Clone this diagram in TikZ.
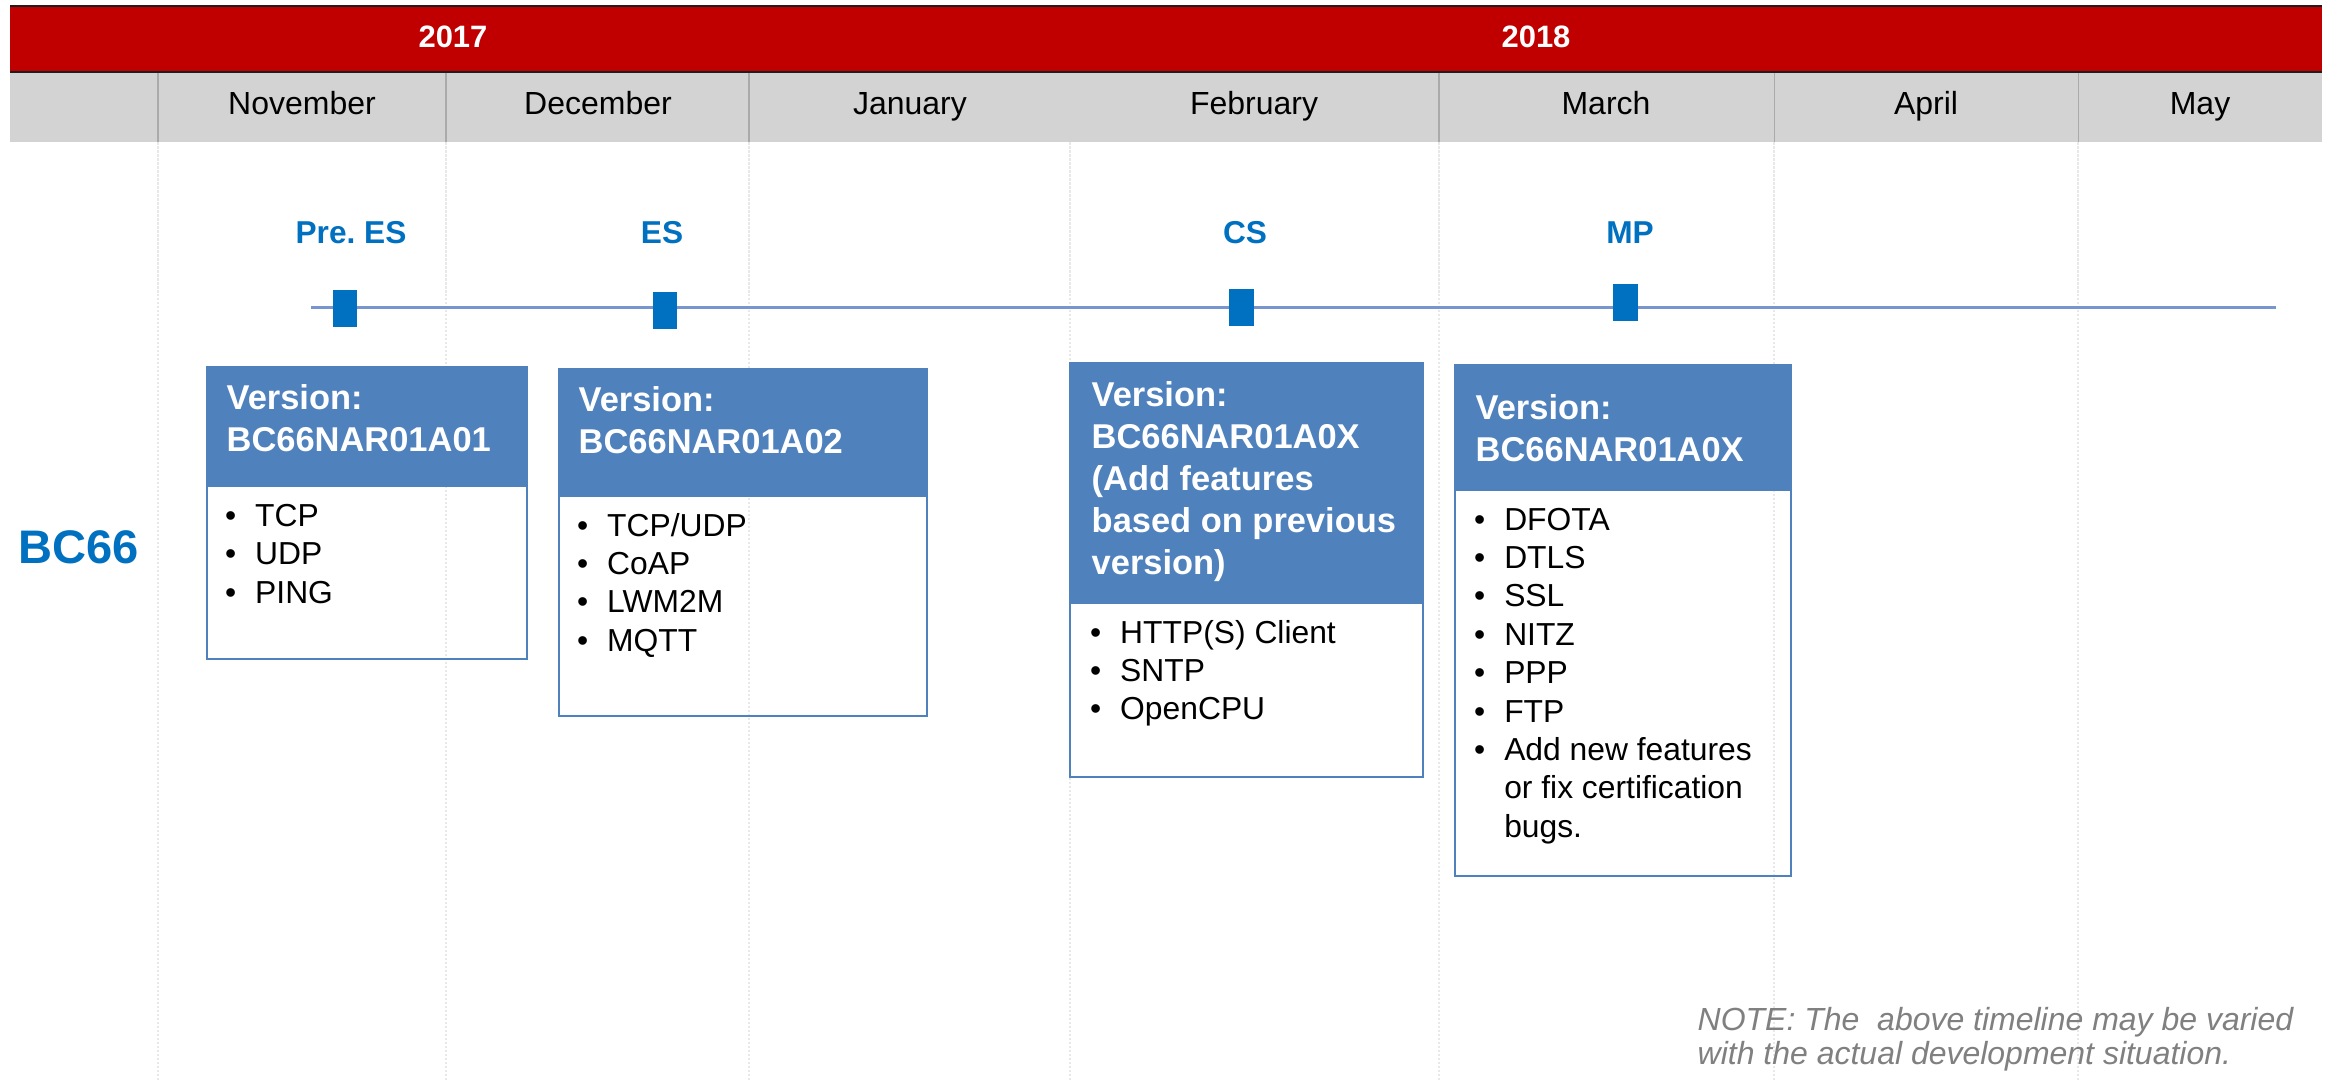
\documentclass[tikz,border=0pt]{standalone}
\usepackage{fontspec}
\setmainfont{Liberation Sans}
\usetikzlibrary{positioning}
\frenchspacing
\definecolor{barred}{RGB}{192,0,0}
\definecolor{barline}{RGB}{30,30,30}
\definecolor{bandgray}{RGB}{211,211,211}
\definecolor{sepgray}{RGB}{170,170,170}
\definecolor{gridgray}{RGB}{232,232,232}
\definecolor{qblue}{RGB}{0,112,192}
\definecolor{hdrblue}{RGB}{79,129,189}
\definecolor{lineblue}{RGB}{120,150,205}
\definecolor{notegray}{RGB}{128,128,128}
\tikzset{
  yearlabel/.style={anchor=base, inner sep=0, text=white, font=\fontsize{8.8}{10}\selectfont\bfseries},
  monthlabel/.style={anchor=base, inner sep=0, font=\fontsize{9.1}{11}\selectfont},
  milestone/.style={anchor=base, inner sep=0, text=qblue, font=\fontsize{9}{11}\selectfont\bfseries},
  marker/.style={rectangle, fill=qblue, inner sep=0, minimum width=2.45mm, minimum height=3.7mm},
  verhead/.style={rectangle, fill=hdrblue, inner sep=0, anchor=north west},
  verbox/.style={rectangle, draw=hdrblue, line width=0.6pt, inner sep=0, anchor=north west},
  hdrtext/.style={anchor=base west, inner sep=0, text=white, font=\fontsize{9.8}{11.95}\selectfont\bfseries},
  featlist/.style={anchor=base west, inner sep=0, font=\fontsize{9.05}{10.93}\selectfont},
  gridline/.style={draw=gridgray, line width=0.5pt, dash pattern=on 0.25mm off 0.15mm},
  bandsep/.style={draw=sepgray, line width=0.3pt},
}

\begin{document}
\begin{tikzpicture}[x=0.1mm, y=-0.1mm]
\useasboundingbox[fill=white] (0,0) rectangle (2331,1081);

% Grid lines under the months
\draw[gridline] (158,142) -- (158,1081);
\draw[gridline] (446,142) -- (446,1081);
\draw[gridline] (749,142) -- (749,1081);
\draw[gridline] (1070,142) -- (1070,1081);
\draw[gridline] (1439,142) -- (1439,1081);
\draw[gridline] (1774,142) -- (1774,1081);
\draw[gridline] (2078,142) -- (2078,1081);

% Year bar
\fill[barred] (10,6) rectangle (2322,72);
\draw[barline, line width=0.7pt] (10,6) -- (2322,6);
\draw[barline, line width=0.7pt] (10,72) -- (2322,72);
\node[yearlabel] (y17) at (453,47) {2017};
\node[yearlabel] (y18) at (1536,47) {2018};

% Month band
\fill[bandgray] (10,73) rectangle (2322,142);
\draw[bandsep] (158,73) -- (158,142);
\draw[bandsep] (446,73) -- (446,142);
\draw[bandsep] (749,73) -- (749,142);
\draw[bandsep] (1439,73) -- (1439,142);
\draw[bandsep] (1774,73) -- (1774,142);
\draw[bandsep] (2078,73) -- (2078,142);
\node[monthlabel] (nov) at (302,114) {November};
\node[monthlabel] (dec) at (598,114) {December};
\node[monthlabel] (jan) at (910,114) {January};
\node[monthlabel] (feb) at (1254,114) {February};
\node[monthlabel] (mar) at (1606,114) {March};
\node[monthlabel] (apr) at (1926,114) {April};
\node[monthlabel] (may) at (2200,114) {May};

% Timeline and milestones
\coordinate (tstart) at (311,307.5);
\coordinate (tend) at (2276,307.5);
\draw[lineblue, line width=0.8pt] (tstart) -- (tend);
\node[marker] (mpre) at (345,308) {};
\node[marker] (mes) at (665,310) {};
\node[marker] (mcs) at (1241.5,307) {};
\node[marker] (mmp) at (1625.5,302.5) {};
\node[milestone] (lpre) at (351,243) {Pre. ES};
\node[milestone] (les) at (662,243) {ES};
\node[milestone] (lcs) at (1245,243) {CS};
\node[milestone] (lmp) at (1630,243) {MP};

% Module name
\node[anchor=base, inner sep=0, text=qblue, font=\fontsize{13.4}{16}\selectfont\bfseries] (bc) at (78.5,563) {BC66};

% Version A01
\node[verhead, minimum width=32.05mm, minimum height=12mm] (h1) at (205.5,366) {};
\node[verbox, minimum width=32.05mm, minimum height=29.2mm] (b1) at (205.5,366) {};
\node[hdrtext] (t1) at (226,409) {\begin{tabular}[t]{@{}l@{}}Version:\\BC66NAR01A01\end{tabular}};
\node[featlist] (f1) at (224.4,526.5) {\begin{tabular}[t]{@{}l@{\hspace{1.9mm}}l@{}}
  \textbullet & TCP\\
  \textbullet & UDP\\
  \textbullet & PING
\end{tabular}};

% Version A02
\node[verhead, minimum width=36.85mm, minimum height=12.8mm] (h2) at (557.5,368) {};
\node[verbox, minimum width=36.85mm, minimum height=34.7mm] (b2) at (557.5,368) {};
\node[hdrtext] (t2) at (578,411.7) {\begin{tabular}[t]{@{}l@{}}Version:\\BC66NAR01A02\end{tabular}};
\node[featlist] (f2) at (576.4,536) {\begin{tabular}[t]{@{}l@{\hspace{1.9mm}}l@{}}
  \textbullet & TCP/UDP\\
  \textbullet & CoAP\\
  \textbullet & LWM2M\\
  \textbullet & MQTT
\end{tabular}};

% Version A0X (CS)
\node[verhead, minimum width=35.3mm, minimum height=24.1mm] (h3) at (1069,362) {};
\node[verbox, minimum width=35.3mm, minimum height=41.4mm] (b3) at (1069,362) {};
\node[hdrtext] (t3) at (1091,406) {\begin{tabular}[t]{@{}l@{}}Version:\\BC66NAR01A0X\\(Add features\\based on previous\\version)\end{tabular}};
\node[featlist] (f3) at (1089.4,643) {\begin{tabular}[t]{@{}l@{\hspace{1.9mm}}l@{}}
  \textbullet & HTTP(S) Client\\
  \textbullet & SNTP\\
  \textbullet & OpenCPU
\end{tabular}};

% Version A0X (MP)
\node[verhead, minimum width=33.65mm, minimum height=12.6mm] (h4) at (1453.5,364) {};
\node[verbox, minimum width=33.65mm, minimum height=51.1mm] (b4) at (1453.5,364) {};
\node[hdrtext] (t4) at (1475,419.6) {\begin{tabular}[t]{@{}l@{}}Version:\\BC66NAR01A0X\end{tabular}};
\node[featlist] (f4) at (1473.4,530) {\begin{tabular}[t]{@{}l@{\hspace{1.9mm}}l@{}}
  \textbullet & DFOTA\\
  \textbullet & DTLS\\
  \textbullet & SSL\\
  \textbullet & NITZ\\
  \textbullet & PPP\\
  \textbullet & FTP\\
  \textbullet & Add new features\\
              & or fix certification\\
              & bugs.
\end{tabular}};

% Note
\node[anchor=base west, inner sep=0, text=notegray, font=\fontsize{9.1}{9.7}\selectfont\itshape] (note) at (1697,1030) {\begin{tabular}[t]{@{}l@{}}NOTE: The\ \ above timeline may be varied\\with the actual development situation.\end{tabular}};
\end{tikzpicture}
\end{document}
